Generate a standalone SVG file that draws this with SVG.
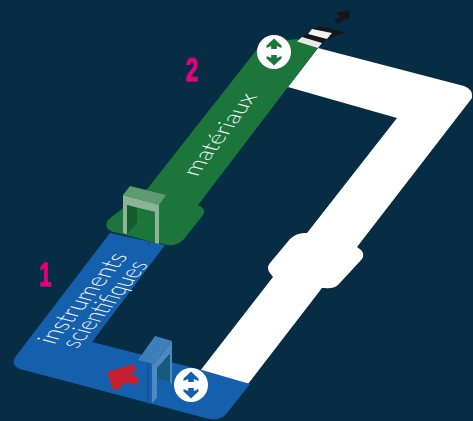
<svg xmlns="http://www.w3.org/2000/svg" width="473" height="421" viewBox="0 0 473 421">
<style>
.lbl{font-family:"Lato","Open Sans","Liberation Sans",sans-serif;font-weight:300;font-size:24px;fill:#f2f6fa}
.num{font-family:"Liberation Sans",sans-serif;font-weight:700;font-size:33px;fill:#e6007e;stroke:#e6007e;stroke-width:.8}
</style>
<defs>
<g id="updown">
<circle r="17" fill="#fff"/>
<path d="M0-13.500L7.500-6.500 7.500-4 2.800-6 2.800-3-2.800-3-2.800-6-7.500-4-7.500-6.500ZM0 13.500L7.500 6.500 7.500 4 2.800 6 2.800 3-2.800 3-2.800 6-7.500 4-7.500 6.500Z"/>
</g>
</defs>
<rect width="473" height="421" fill="#072d45"/>
<g id="ring">
<path d="M318 48L464 86Q473 89 472 98L357 247 361 250Q365 254 362 259L338 285Q333 289 325 288L322 288 248 384 200 371 273 277 270 273Q266 268 270 263L290 239Q297 232 307 233L397 118 288 87Z" fill="#fff"/>
</g>
<g id="zone-instruments">
<path d="M110 233L165 245 92 342 202 370 250 384 227 413Q221 421 209 419L20 369Q10 365 16 356Z" fill="#1560ac"/>
<path d="M148 345V405" stroke="#0f4f8f" stroke-width="1" fill="none"/>
<text class="lbl" transform="matrix(.61 -.73 1.06 .28 54 345)">instruments</text>
<text class="lbl" transform="matrix(.56 -.66 1.06 .28 77 349)">scientifiques</text>
</g>
<g id="zone-materiaux">
<path d="M262 43L297 39 318 48 288 87 198 205Q207 209 203 215L184 239Q178 246 168 245L113 232Q103 228 108 220L148 188Z" fill="#1c763c"/>
<path d="M149 190V245" stroke="#14592d" stroke-width="1" fill="none"/>
<text class="lbl" transform="matrix(.6 -.8 .95 .25 197 177)">matériaux</text>
</g>
<g id="gate-green">
<path d="M130 186L166 195 159 205 123 195Z" fill="#5f9a71"/>
<path d="M123 195L159 205V244L155 243V212L127 205V234L123 233Z" fill="#8db497"/>
<path d="M127 205L137 208V223L127 234Z" fill="#125c30"/>
<path d="M137 208L155 212V243L127 235 137 223Z" fill="#1c763c"/>
</g>
<g id="gate-blue">
<path d="M155 336L172 341 154 364 138 360Z" fill="#3d7fbb"/>
<path d="M154 364L172 341V385L170 382V354L157 368V398L152 403V364Z" fill="#4f89c3"/>
<path d="M157 368L170 355V382L157 378Z" fill="#145b7e"/>
</g>
<g id="arrow-red"><path d="M107 372L134 364 136 372 129 374 138 377V385L124 383 119 389 113 390Z" fill="#c4202f"/></g>
<g id="exit">
<path d="M302 37L318 26 345 32 328 39 322 43Z" fill="#161616"/>
<path d="M297 41.500L302 37 322 43 318 48Z" fill="#e8e8e8"/>
<path d="M308 34L312 29 332 33 327 39Z" fill="#f2f2f2"/>
<path d="M350 10L335 13 341 17 334 20 338 24 345 19 349 19Z" fill="#161616"/>
</g>
<g id="lift-blue" fill="#1560ac"><use href="#updown" x="191" y="385"/></g>
<g id="lift-green" fill="#1c763c"><use href="#updown" x="274" y="52"/></g>
<text class="num" transform="translate(39 286) scale(.66 1)">1</text>
<text class="num" transform="translate(185.500 81) scale(.68 1)">2</text>
</svg>
